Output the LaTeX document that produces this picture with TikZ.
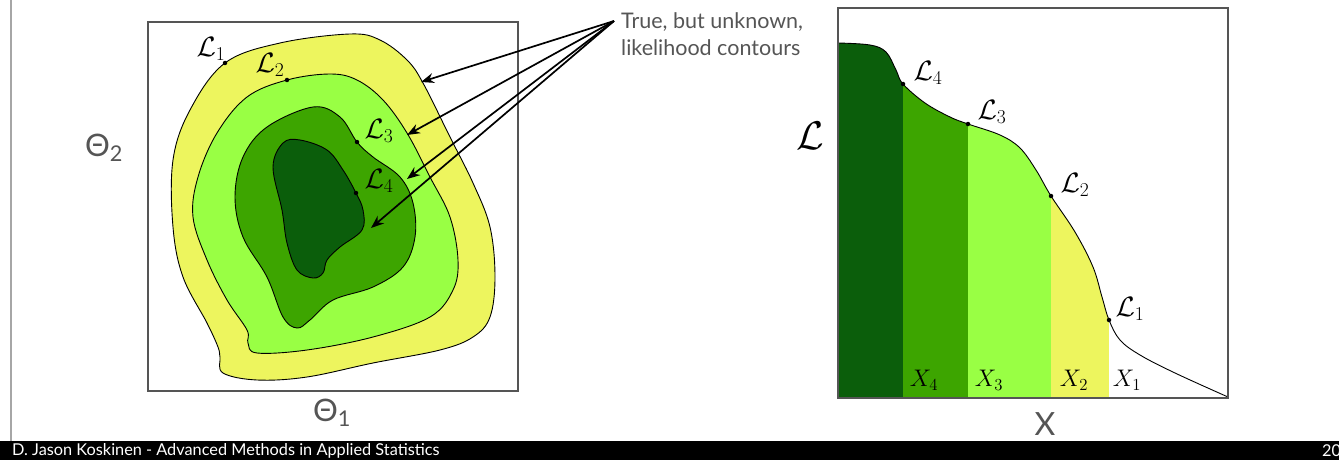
\RequirePackage{fix-cm}
\documentclass[tikz,border=0pt]{standalone}
\usepackage{amsmath,amssymb}
\usepackage{fontspec}
\usetikzlibrary{positioning,arrows.meta,calc}
\newfontfamily\slidefont{Lato}
\definecolor{cyellow}{HTML}{EDF55E}
\definecolor{clight}{HTML}{99FF44}
\definecolor{cmid}{HTML}{3DA500}
\definecolor{cdark}{HTML}{0B5E0B}
\definecolor{slidegrey}{HTML}{555555}

\begin{document}
\begin{tikzpicture}[x=1pt,y=-1pt,>={Stealth[length=13pt,width=10pt]},
  contour/.style={draw=black,line width=0.9pt},
  dot/.style={circle,fill=black,inner sep=0pt,minimum size=4.5pt},
  lab/.style={font=\fontsize{28}{28}\selectfont,inner sep=1pt},
  xlab/.style={font=\fontsize{24}{24}\selectfont,inner sep=1pt},
  axlab/.style={font=\slidefont\fontsize{31}{31}\selectfont,text=slidegrey},
  frame/.style={draw=slidegrey,line width=1.2pt}]
\useasboundingbox (0,0) rectangle (1339,460);
\draw[gray!70,line width=1.5pt] (11,0) -- (11,441);

% left panel: contours in the parameter plane
\coordinate (c1) at (225,63);
\coordinate (c2) at (287,80);
\coordinate (c3) at (357,142);
\coordinate (c4) at (356,193);
\draw[frame] (148,22) rectangle (518,391);
\filldraw[contour,fill=cyellow] plot[smooth cycle,tension=0.6] coordinates {(c1) (280,43) (350,34) (380,40) (407,60) (423,83) (450,137) (473,183) (490,227) (495,277) (490,317) (473,337) (440,350) (373,363) (307,377) (257,380) (223,373) (220,357) (218,347) (207,323) (183,277) (173,227) (173,160) (190,110)};
\filldraw[contour,fill=clight] plot[smooth cycle,tension=0.6] coordinates {(c2) (330,74) (357,80) (383,100) (407,133) (430,177) (450,217) (458,260) (453,290) (430,317) (373,337) (307,350) (257,353) (248,343) (247,330) (227,300) (207,260) (193,217) (198,177) (217,133) (247,97)};
\filldraw[contour,fill=cmid] plot[smooth cycle,tension=0.6] coordinates {(c3) (373,157) (400,177) (413,203) (415,237) (403,267) (373,287) (333,300) (310,320) (297,328) (283,317) (267,277) (243,237) (235,197) (243,157) (267,127) (313,107) (340,117)};
\filldraw[contour,fill=cdark] plot[smooth cycle,tension=0.6] coordinates {(c4) (363,210) (362,230) (340,247) (327,260) (323,273) (313,278) (297,270) (287,243) (282,210) (273,167) (283,143) (300,140) (327,150) (343,170)};
\foreach \c in {c1,c2,c3,c4} \node[dot] at (\c) {};
\node[lab] (tc1) at (211,49) {$\mathcal{L}_1$};
\node[lab] (tc2) at (270,65) {$\mathcal{L}_2$};
\node[lab] (tc3) at (379,131) {$\mathcal{L}_3$};
\node[lab] (tc4) at (379,181) {$\mathcal{L}_4$};
\node[axlab] (th2) at (104,148) {Θ\textsubscript{2}};
\node[axlab] (th1) at (332,413) {Θ\textsubscript{1}};

% callout
\node[font=\slidefont\fontsize{21.5}{27}\selectfont,text=slidegrey,align=left,anchor=north west,inner sep=0pt] (note) at (621,12) {True, but unknown,\\likelihood contours};
\coordinate (src) at (614,21);
\coordinate (a1) at (421,82);
\coordinate (a2) at (407,135);
\coordinate (a3) at (407,179);
\coordinate (a4) at (371,228);
\foreach \a in {a1,a2,a3,a4} \draw[->,line width=1.7pt] (src) -- (\a);

% right panel: likelihood against enclosed prior mass
\def\curvepts{(838,43) (870,45) (886,52) (896,70) (903,84) (925,103) (950,117) (968,124) (1000,135) (1020,148) (1036,170) (1051,196) (1075,232) (1093,267) (1102,297) (1109,320) (1120,340) (1140,355) (1175,373) (1228,397)}
\begin{scope}
\clip plot[smooth,tension=0.6] coordinates {\curvepts} -- (838,397) -- cycle;
\fill[cdark] (838,0) rectangle (903,397);
\fill[cmid] (903,0) rectangle (968,397);
\fill[clight] (968,0) rectangle (1051,397);
\fill[cyellow] (1051,0) rectangle (1109,397);
\end{scope}
\draw[line width=0.9pt] plot[smooth,tension=0.6] coordinates {\curvepts};
\draw[frame] (838,8) rectangle (1228,398);
\coordinate (r4) at (903,84);
\coordinate (r3) at (968,124);
\coordinate (r2) at (1051,196);
\coordinate (r1) at (1109,320);
\foreach \r in {r1,r2,r3,r4} \node[dot] at (\r) {};
\node[lab] (tr4) at (928,73) {$\mathcal{L}_4$};
\node[lab] (tr3) at (992,112) {$\mathcal{L}_3$};
\node[lab] (tr2) at (1075,185) {$\mathcal{L}_2$};
\node[lab] (tr1) at (1130,309) {$\mathcal{L}_1$};
\node[xlab] (x4) at (924,380) {$X_4$};
\node[xlab] (x3) at (989,380) {$X_3$};
\node[xlab] (x2) at (1074,380) {$X_2$};
\node[xlab] (x1) at (1127,380) {$X_1$};
\node[font=\fontsize{40}{40}\selectfont] (bigL) at (810,136) {$\mathcal{L}$};
\node[axlab,font=\slidefont\fontsize{32}{32}\selectfont] (xax) at (1045,424) {X};

% footer bar
\fill[black] (0,441) rectangle (1339,460);
\node[font=\slidefont\fontsize{16.3}{16.3}\selectfont,text=white,anchor=west,inner sep=0pt] (foot) at (12,451) {D. Jason Koskinen - Advanced Methods in Applied Statistics};
\node[font=\slidefont\fontsize{16.3}{16.3}\selectfont,text=white,anchor=west,inner sep=0pt] (page) at (1322,451) {20};
\end{tikzpicture}
\end{document}
